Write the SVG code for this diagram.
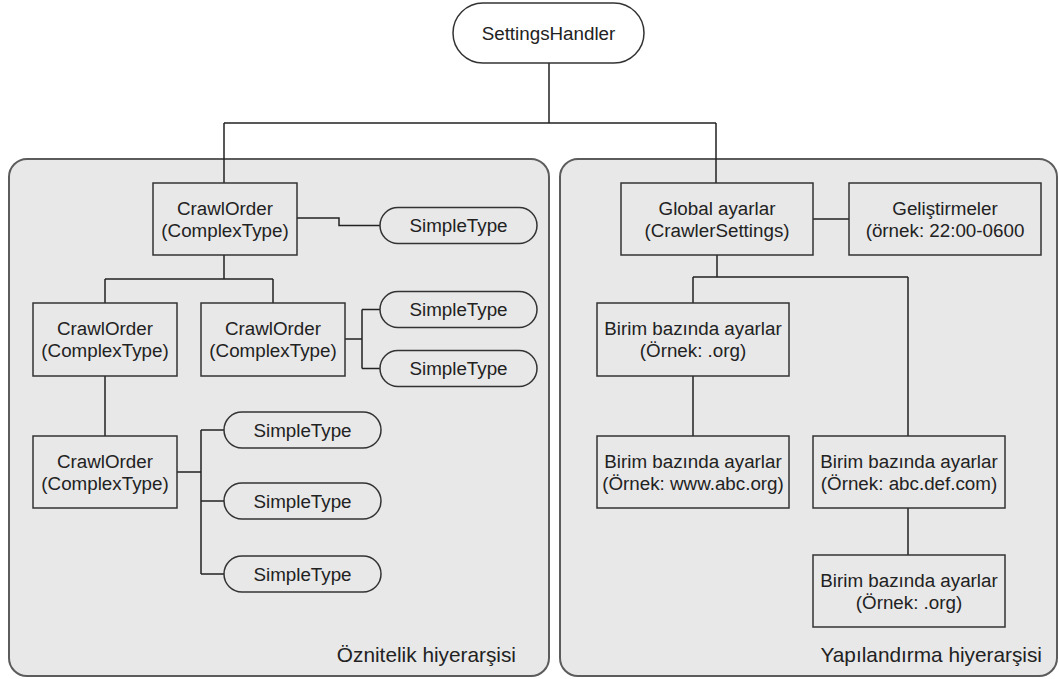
<svg xmlns="http://www.w3.org/2000/svg" width="1059" height="679" viewBox="0 0 1059 679">
<style>
.panel{fill:#e8e8e8;stroke:#5c5c5c;stroke-width:2}
.box{fill:#e8e8e8;stroke:#333;stroke-width:1.5}
.pill{fill:#e8e8e8;stroke:#333;stroke-width:1.5}
.root{fill:#fff;stroke:#333;stroke-width:1.5}
.t{font-family:"Liberation Sans",Arial,sans-serif;font-size:18.8px;fill:#222;text-anchor:middle}
.lbl{font-family:"Liberation Sans",Arial,sans-serif;font-size:20.8px;fill:#222;text-anchor:end}
.c{fill:none;stroke:#222;stroke-width:1.5}
</style>
<rect width="1059" height="679" fill="#fff"/>
<g id="panel-left"><rect class="panel" x="9" y="159" width="540" height="517" rx="18"/><text class="lbl" x="516" y="662">Öznitelik hiyerarşisi</text></g>
<g id="panel-right"><rect class="panel" x="560" y="159" width="497" height="517" rx="18"/><text class="lbl" x="1042" y="662">Yapılandırma hiyerarşisi</text></g>
<g id="connectors">
<path class="c" d="M549 63V123M224 123H716M224 123V183M716 123V183"/>
<path class="c" d="M224 255V279M105 279H273M105 279V303M273 279V303"/>
<path class="c" d="M297 218H339V225.5H380"/>
<path class="c" d="M345 339H362M362 309.5V368.5M362 309.5H380M362 368.5H380"/>
<path class="c" d="M105 376V436"/>
<path class="c" d="M177 472H201M201 430V574M201 430H224M201 501H224M201 574H224"/>
<path class="c" d="M813 219H849"/>
<path class="c" d="M717 255V277M693 277H908M693 277V303M908 277V436"/>
<path class="c" d="M693 376V436M908 508V555"/>
</g>
<g id="settingshandler"><rect class="root" x="453" y="3" width="191" height="60" rx="30"/><text class="t" x="548.5" y="39.5">SettingsHandler</text></g>
<g id="crawlorder1"><rect class="box" x="153" y="183" width="144" height="72"/><text class="t" x="225" y="215">CrawlOrder</text><text class="t" x="225" y="237">(ComplexType)</text></g>
<g id="simple1"><rect class="pill" x="380" y="207.5" width="157" height="36" rx="18"/><text class="t" x="458.5" y="232">SimpleType</text></g>
<g id="crawlorder2"><rect class="box" x="33" y="303" width="144" height="73"/><text class="t" x="105" y="335">CrawlOrder</text><text class="t" x="105" y="357">(ComplexType)</text></g>
<g id="crawlorder3"><rect class="box" x="201" y="303" width="144" height="73"/><text class="t" x="273" y="335">CrawlOrder</text><text class="t" x="273" y="357">(ComplexType)</text></g>
<g id="simple2"><rect class="pill" x="380" y="291.5" width="157" height="36" rx="18"/><text class="t" x="458.5" y="316">SimpleType</text></g>
<g id="simple3"><rect class="pill" x="380" y="350.5" width="157" height="36" rx="18"/><text class="t" x="458.5" y="375">SimpleType</text></g>
<g id="crawlorder4"><rect class="box" x="33" y="436" width="144" height="72"/><text class="t" x="105" y="468">CrawlOrder</text><text class="t" x="105" y="490">(ComplexType)</text></g>
<g id="simple4"><rect class="pill" x="224" y="412" width="157" height="36" rx="18"/><text class="t" x="302.5" y="436.5">SimpleType</text></g>
<g id="simple5"><rect class="pill" x="224" y="483" width="157" height="36" rx="18"/><text class="t" x="302.5" y="507.5">SimpleType</text></g>
<g id="simple6"><rect class="pill" x="224" y="556" width="157" height="36" rx="18"/><text class="t" x="302.5" y="580.5">SimpleType</text></g>
<g id="global"><rect class="box" x="621" y="183" width="192" height="72"/><text class="t" x="717" y="215">Global ayarlar</text><text class="t" x="717" y="237">(CrawlerSettings)</text></g>
<g id="gelistirmeler"><rect class="box" x="849" y="183" width="192" height="72"/><text class="t" x="945" y="215">Geliştirmeler</text><text class="t" x="945" y="237">(örnek: 22:00-0600</text></g>
<g id="birim1"><rect class="box" x="597" y="303" width="192" height="73"/><text class="t" x="693" y="335">Birim bazında ayarlar</text><text class="t" x="693" y="357">(Örnek: .org)</text></g>
<g id="birim2"><rect class="box" x="597" y="436" width="192" height="72"/><text class="t" x="693" y="468">Birim bazında ayarlar</text><text class="t" x="693" y="490">(Örnek: www.abc.org)</text></g>
<g id="birim3"><rect class="box" x="813" y="436" width="192" height="72"/><text class="t" x="909" y="468">Birim bazında ayarlar</text><text class="t" x="909" y="490">(Örnek: abc.def.com)</text></g>
<g id="birim4"><rect class="box" x="813" y="555" width="192" height="72"/><text class="t" x="909" y="587">Birim bazında ayarlar</text><text class="t" x="909" y="609">(Örnek: .org)</text></g>
</svg>
